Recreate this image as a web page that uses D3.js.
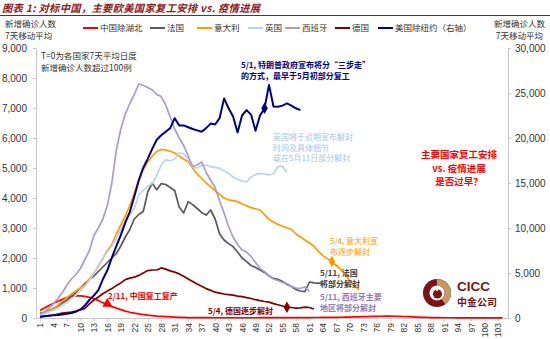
<!DOCTYPE html>
<html>
<head>
<meta charset="utf-8">
<script src="https://cdn.jsdelivr.net/npm/d3@7"></script>
<style>
  body { margin: 0; background: #fff; }
  svg { display: block; font-family: "Liberation Sans", Arial, sans-serif; }
  .cn { font-family: "Noto Sans CJK SC", sans-serif; }
</style>
</head>
<body>
<div id="chart"></div>
<script>
// daily new cases, 7 day moving average, T=0 when the average passes 100
var chinaExHubei = [250,330,420,490,560,620,680,720,740,735,720,690,640,580,510,440,380,330,280,230,
  190,160,135,115,95,80,65,55,45,35,28,22,18,15,12,12,11,10,10,9,
  9,8,8,8,8,8,8,9,9,10,10,11,11,12,12,13,13,14,14,15,
  15,16,17,18,19,20,22,25,28,32,36,40,44,48,52,55,58,60,60,58,
  55,50,44,36,28,22,18,15,12,10,9,8,8,7,7,7,6,6,6,6,6,6,6,6];
var france = [160,200,250,320,400,500,600,720,850,1000,1150,1280,1400,1550,1700,1850,2000,2150,2400,2700,
  2950,3300,3450,3550,4200,4500,4270,4480,4450,4350,4250,3700,3500,3880,3780,3650,3520,3430,3600,3300,
  2800,2600,2480,2380,2200,2000,1880,1750,1680,1600,1520,1400,1320,1290,1220,1120,1050,950,900,880,
  1200,1170,1160,1150];
var italy = [130,180,240,320,420,560,680,800,900,1000,1100,1300,1500,1720,1980,2250,2450,2800,3100,3400,
  3750,4150,4600,4950,5200,5400,5550,5620,5600,5560,5500,5400,5300,5210,5000,4800,4650,4500,4380,4250,
  4120,4000,3940,3910,3880,3800,3740,3680,3640,3600,3450,3280,3200,3120,3060,3010,2950,2800,2700,2600,
  2500,2400,2220,2080,1980,1880,1750,1620,1450,1250,1080,950];
var uk = [110,150,200,260,330,420,520,640,760,900,1050,1250,1500,1750,2000,2200,2400,2650,2950,3250,
  3450,3650,4100,4250,4400,4480,4750,5100,5270,5240,5300,5500,5480,5300,5030,5000,5080,5100,5040,5020,
  4990,4900,4820,4700,4620,4560,4540,4700,4780,4820,4800,4770,4800,5050,5060,4840];
var spain = [120,200,330,480,650,850,1100,1300,1450,1650,1950,2250,2750,3000,3300,3750,4500,5600,6300,6800,
  7150,7450,7800,7750,7680,7600,7450,7380,7100,6700,6300,6000,5750,5400,5050,5100,5200,4850,4600,4350,
  3900,3500,3050,2700,2450,2270,2200,2050,1850,1650,1550,1400,1300,1250,1180,1150,1050,1000,990,1030,880];
var germany = [40,60,80,100,130,160,180,200,230,270,320,470,600,700,810,900,980,1080,1170,1280,
  1330,1360,1420,1500,1580,1600,1600,1670,1630,1570,1530,1470,1390,1300,1220,1130,1060,980,920,860,
  830,800,780,760,730,710,680,650,610,580,550,530,480,440,400,360,350,330,340,360,350,300];
// right axis
var usExNewYork = [150,200,250,300,340,400,470,560,700,950,1400,2000,2500,3100,4300,5300,6700,8000,9200,10600,
  11800,13500,15300,16700,17700,18800,19800,20300,20700,21100,22200,21400,21400,21200,21000,20850,20700,21100,21600,21500,
  22200,24400,23300,22400,20600,22500,23100,22600,20800,22500,23300,25900,23500,23480,23600,23850,23600,23300,23100];

var seriesNames = ["中国除湖北","法国","意大利","英国","西班牙","德国","美国除纽约（右轴）"];
var leftTicks = [0,1000,2000,3000,4000,5000,6000,7000,8000,9000];
var rightTicks = [0,5000,10000,15000,20000,25000,30000];
var dayTicks = d3.range(1, 104, 3);

// event markers: [series index, day]
var markerDays = [[0,16],[2,66],[5,56],[6,51]];

var W = 550, H = 339;
var colors = ["#ff0000","#595959","#ff9a00","#bcd3ee","#ab9bcb","#800000","#000080"];
var seriesData = [chinaExHubei, france, italy, uk, spain, germany, usExNewYork];

var svg = d3.select("#chart").append("svg")
  .attr("width", W).attr("height", H);

var x = d3.scaleLinear().domain([1,103]).range([40,498]);
var yL = d3.scaleLinear().domain([0,9000]).range([318,48]);
var yR = d3.scaleLinear().domain([0,30000]).range([318,48]);

//title + underline
svg.append("text").attr("class","cn")
  .attr("x",2).attr("y",12)
  .style("font-size","10.3px").style("font-style","italic").style("font-weight","bold")
  .style("letter-spacing","0.3px")
  .style("fill","#8e1c1f")
  .text("图表 1: 对标中国，主要欧美国家复工安排 vs. 疫情进展");
svg.append("line").attr("x1",0).attr("x2",W).attr("y1",15.5).attr("y2",15.5)
  .style("stroke","#8e1c1f").style("stroke-width",1);

//axis titles
[[5,"start"],[545,"end"]].forEach(function(p){
  svg.append("text").attr("class","cn").attr("x",p[0]).attr("y",27)
    .style("font-size","8.5px").style("fill","#333").style("text-anchor",p[1]).text("新增确诊人数");
  svg.append("text").attr("class","cn").attr("x",p[1]=="start"?p[0]:p[0]-2).attr("y",39)
    .style("font-size","8.5px").style("fill","#333").style("text-anchor",p[1]).text("7天移动平均");
});

//legend
var legendX = [83,150,197,248,285,335,378];
seriesNames.forEach(function(n,i){
  svg.append("line").attr("x1",legendX[i]).attr("x2",legendX[i]+15)
    .attr("y1",28).attr("y2",28).style("stroke",colors[i]).style("stroke-width",2);
  svg.append("text").attr("class","cn").attr("x",legendX[i]+17).attr("y",31)
    .style("font-size","8.5px").style("fill","#333").text(n);
});

//axes
var axisColor = "#c8c8c8";
var gL = svg.append("g").attr("transform","translate(36,0)")
  .call(d3.axisLeft(yL).tickValues(leftTicks).tickSize(3).tickFormat(d3.format(",")));
var gR = svg.append("g").attr("transform","translate(508,0)")
  .call(d3.axisRight(yR).tickValues(rightTicks).tickSize(3).tickFormat(d3.format(",")));
var gB = svg.append("g").attr("transform","translate(0,318)")
  .call(d3.axisBottom(x).tickValues(dayTicks).tickSize(3).tickSizeOuter(0));
gB.select(".domain").attr("d","M36,0.5H508");
[gL,gR,gB].forEach(function(g){
  g.select(".domain").style("stroke",axisColor);
  g.selectAll(".tick line").style("stroke",axisColor);
  g.selectAll("text").style("fill","#333").style("font-family","Liberation Sans, Arial, sans-serif");
});
gL.selectAll("text").style("font-size","10px").attr("x",-9);
gR.selectAll("text").style("font-size","10px").attr("x",7);
gB.selectAll("text").style("font-size","8.5px")
  .attr("y",0).attr("x",-5).attr("dy","0.35em")
  .attr("transform","rotate(-90)").style("text-anchor","end");

//lines
seriesData.forEach(function(vals,i){
  var ys = i==6 ? yR : yL;
  var line = d3.line().x(function(d,j){ return x(j+1); }).y(function(d){ return ys(d); });
  svg.append("path").datum(vals).attr("d",line)
    .style("fill","none").style("stroke",colors[i])
    .style("stroke-width", i==6 ? 2 : 1.7).style("stroke-linejoin","round");
});

//markers
markerDays.forEach(function(m){
  var i = m[0], d = m[1];
  var ys = i==6 ? yR : yL;
  var v = seriesData[i][d-1];
  var sym = i==0 ? d3.symbolTriangle : d3.symbolDiamond;
  svg.append("path").attr("d",d3.symbol().type(sym).size(i==0?45:38)())
    .attr("transform","translate("+x(d)+","+(ys(v)-(i==0?1:0))+")")
    .style("fill",colors[i]);
});

//annotations
function note(lines, x0, y0, color, size, weight, lh, anchor){
  lines.forEach(function(t,k){
    svg.append("text").attr("class","cn").attr("x",x0).attr("y",y0+k*lh)
      .style("font-size",size+"px").style("font-weight",weight||"normal")
      .style("fill",color).style("text-anchor",anchor||"start").text(t);
  });
}
note(["T=0为各国家7天平均日度","新增确诊人数超过100例"], 41, 59, "#333", 8.5, "normal", 11.5);
note(["5/1, 特朗普政府宣布将分“三步走”","的方式，最早于5月初部分复工"], 241, 68, "#000080", 8, "bold", 10.5);
note(["英国将于近期宣布解封","时间及具体细节","或在5月11日部分解封"], 273, 140, "#a9c4e6", 8, "normal", 10.5);
note(["5/4, 意大利宣","布逐步解封"], 330, 244, "#ff9a00", 8, "normal", 10.5);
note(["5/11, 法国","将部分解封"], 320, 276, "#404040", 8, "bold", 10.5);
note(["5/11, 西班牙主要","地区将部分解封"], 320, 300, "#8f7bb8", 8, "bold", 10.5);
note(["5/4, 德国逐步解封"], 208, 314, "#800000", 8, "bold", 10.5);
note(["2/11, 中国复工复产"], 108, 299, "#ff0000", 8, "bold", 10.5);
note(["主要国家复工安排","vs. 疫情进展","是否过早？"], 459, 158, "#ff0000", 9.5, "bold", 13.5, "middle");

//CICC logo
var logo = svg.append("g").attr("transform","translate(437,293)");
logo.append("circle").attr("r",14).style("fill","#7a1416");
logo.append("path").attr("d",d3.arc().innerRadius(7.5).outerRadius(14).startAngle(0).endAngle(2.5)())
  .style("fill","#c49a5e");
logo.append("circle").attr("r",7.5).style("fill","#fff");
logo.append("circle").attr("cx",0.5).attr("cy",1).attr("r",4.5).style("fill","#7a1416");
logo.append("rect").attr("x",-0.8).attr("y",-7).attr("width",1.6).attr("height",5).style("fill","#fff");
svg.append("text").attr("x",457).attr("y",291)
  .style("font-size","13.5px").style("font-weight","bold").style("fill","#7a1416").text("CICC");
svg.append("text").attr("class","cn").attr("x",457).attr("y",306)
  .style("font-size","10px").style("font-weight","bold").style("fill","#7a1416").text("中金公司");
</script>
</body>
</html>
